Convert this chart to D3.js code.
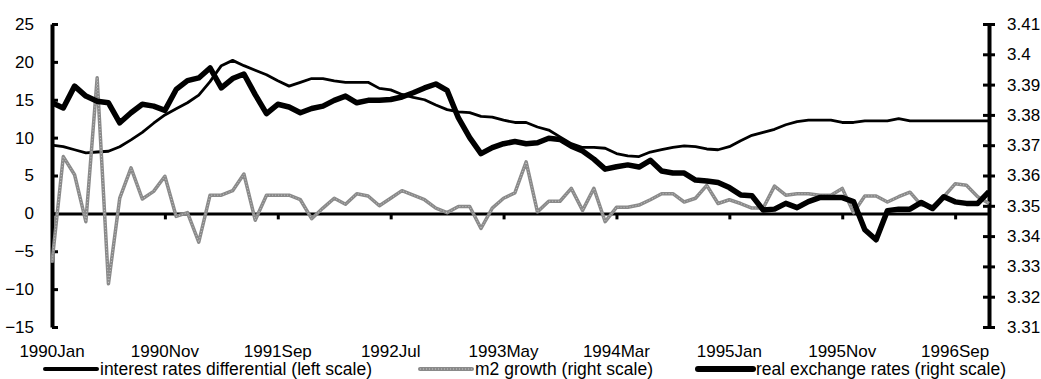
<!DOCTYPE html>
<html>
<head>
<meta charset="utf-8">
<script src="https://cdn.jsdelivr.net/npm/d3@7/dist/d3.min.js"></script>
<style>
  body { margin: 0; background: #fff; }
  svg { display: block; }
  text { font-family: "Liberation Sans", Arial, sans-serif; fill: #000; }
  .axis path, .axis line { stroke: #000; }
</style>
</head>
<body>
<svg id="chart" width="1041" height="379"></svg>
<script>
// categories: monthly, 1990Jan .. 1996Dec
const years = [1990, 1991, 1992, 1993, 1994, 1995, 1996];
const monthNames = ["Jan","Feb","Mar","Apr","May","Jun","Jul","Aug","Sep","Oct","Nov","Dec"];
const categories = [];
years.forEach(y => monthNames.forEach(m => categories.push(y + m)));

// interest rates differential (left scale)
const interestDiff = [
  9.0, 8.8, 8.4, 8.0, 8.1, 8.2, 8.8, 9.7, 10.7, 11.9, 13.0, 13.8,
  14.6, 15.6, 17.4, 19.5, 20.2, 19.5, 18.9, 18.3, 17.5, 16.8, 17.3, 17.8,
  17.8, 17.5, 17.3, 17.3, 17.3, 16.5, 16.3, 15.7, 15.3, 15.0, 14.3, 13.7,
  13.4, 13.3, 12.8, 12.7, 12.3, 12.0, 12.0, 11.4, 11.0, 10.1, 9.2, 8.7,
  8.7, 8.6, 7.9, 7.6, 7.5, 8.1, 8.4, 8.7, 8.9, 8.8, 8.5, 8.4,
  8.8, 9.6, 10.3, 10.7, 11.1, 11.7, 12.1, 12.3, 12.3, 12.3, 12.0, 12.0,
  12.2, 12.2, 12.2, 12.5, 12.2, 12.2, 12.2, 12.2, 12.2, 12.2, 12.2, 12.2
];

// m2 growth (drawn against the left scale, as in the picture)
const m2Growth = [
  -6.5, 7.5, 5.1, -1.1, 17.9, -9.3, 2.0, 6.0, 1.9, 2.9, 4.9, -0.4,
  0.1, -3.8, 2.4, 2.4, 3.0, 5.2, -0.9, 2.4, 2.4, 2.4, 1.8, -0.7,
  0.7, 2.0, 1.2, 2.6, 2.3, 1.0, 2.0, 3.0, 2.4, 1.8, 0.7, 0.1,
  0.9, 0.9, -2.0, 0.7, 2.0, 2.7, 6.8, 0.2, 1.6, 1.6, 3.3, 0.4,
  3.3, -1.1, 0.8, 0.8, 1.1, 1.8, 2.6, 2.6, 1.5, 2.0, 3.7, 1.3,
  1.8, 1.3, 0.7, 0.7, 3.6, 2.4, 2.6, 2.6, 2.4, 2.4, 3.3, 0.1,
  2.3, 2.3, 1.5, 2.2, 2.8, 1.1, 0.9, 2.2, 3.9, 3.7, 2.2, 1.3
];

// real exchange rates (right scale)
const realExRate = [
  3.3840, 3.3823, 3.3895, 3.3862, 3.3845, 3.3840, 3.3774, 3.3807, 3.3835, 3.3829, 3.3815, 3.3884,
  3.3913, 3.3922, 3.3955, 3.3889, 3.3920, 3.3935, 3.3867, 3.3804, 3.3835, 3.3826, 3.3807, 3.3821,
  3.3829, 3.3848, 3.3862, 3.3840, 3.3848, 3.3848, 3.3851, 3.3859, 3.3873, 3.3889, 3.3902, 3.3881,
  3.3790, 3.3725, 3.3672, 3.3692, 3.3705, 3.3712, 3.3705, 3.3708, 3.3723, 3.3719, 3.3697, 3.3681,
  3.3654, 3.3621, 3.3629, 3.3635, 3.3628, 3.3650, 3.3615, 3.3608, 3.3608, 3.3585, 3.3582, 3.3577,
  3.3560, 3.3536, 3.3533, 3.3486, 3.3489, 3.3508, 3.3494, 3.3514, 3.3527, 3.3527, 3.3527, 3.3514,
  3.3421, 3.3388, 3.3484, 3.3489, 3.3489, 3.3511, 3.3491, 3.3530, 3.3513, 3.3508, 3.3508, 3.3547
];

const leftTicks = [-15, -10, -5, 0, 5, 10, 15, 20, 25];
const rightTicks = [3.31, 3.32, 3.33, 3.34, 3.35, 3.36, 3.37, 3.38, 3.39, 3.40, 3.41];
const xTickLabels = ["1990Jan", "1990Nov", "1991Sep", "1992Jul", "1993May", "1994Mar", "1995Jan", "1995Nov", "1996Sep"];

const seriesNames = ["interest rates differential (left scale)", "m2 growth (right scale)", "real exchange rates (right scale)"];

const svg = d3.select("#chart");
const plot = {left: 52, right: 989, top: 24, bottom: 327};

const xScale = d3.scalePoint()
    .domain(categories)
    .range([plot.left, plot.right]);

const yLeft = d3.scaleLinear()
    .domain([-15, 25])
    .range([plot.bottom, plot.top]);

const yRight = d3.scaleLinear()
    .domain([3.31, 3.41])
    .range([plot.bottom, plot.top]);

svg.append("rect").attr("width", 1041).attr("height", 379).attr("fill", "#fff");

// left axis
const leftAxis = svg.append("g")
    .attr("class", "axis yAxis")
    .attr("transform", "translate(" + plot.left + ",0)")
    .call(d3.axisLeft(yLeft).tickValues(leftTicks).tickSize(6).tickSizeOuter(0).tickPadding(12));
leftAxis.select(".domain").attr("stroke-width", 4);
leftAxis.selectAll(".tick line").attr("x2", 6).attr("stroke-width", 3);
leftAxis.selectAll("text").style("font-size", "17px");

// right axis
const rightAxis = svg.append("g")
    .attr("class", "axis yAxis")
    .attr("transform", "translate(" + plot.right + ",0)")
    .call(d3.axisRight(yRight).tickValues(rightTicks).tickSize(6).tickSizeOuter(0).tickPadding(12)
        .tickFormat(d3.format("~g")));
rightAxis.select(".domain").attr("stroke-width", 4);
rightAxis.selectAll(".tick line").attr("x1", -6).attr("stroke-width", 3);
rightAxis.selectAll("text").style("font-size", "17px");

// category axis sits on the zero line
const xAxis = svg.append("g")
    .attr("class", "axis xAxis")
    .attr("transform", "translate(0," + yLeft(0) + ")")
    .call(d3.axisBottom(xScale).tickValues(xTickLabels).tickSize(6).tickSizeOuter(0).tickFormat(""));
xAxis.select(".domain").attr("stroke-width", 3);
xAxis.selectAll(".tick line").attr("stroke-width", 3)
    .filter(d => d === categories[0]).remove();

// x labels along the bottom
svg.append("g")
    .selectAll("text")
    .data(xTickLabels)
    .enter()
    .append("text")
    .attr("x", d => xScale(d))
    .attr("y", 357)
    .attr("text-anchor", "middle")
    .style("font-size", "17px")
    .text(d => d);

// series
const lineLeft = (vals) => d3.line()
    .x((d, i) => xScale(categories[i]))
    .y(d => yLeft(d))(vals);
const lineRight = (vals) => d3.line()
    .x((d, i) => xScale(categories[i]))
    .y(d => yRight(d))(vals);

const styles = [
  {stroke: "#000", width: 2.8},
  {stroke: "#8a8a8a", width: 3.5},
  {stroke: "#000", width: 5.5}
];

svg.append("path")
    .attr("d", lineLeft(interestDiff))
    .attr("fill", "none").attr("stroke", styles[0].stroke).attr("stroke-width", styles[0].width)
    .attr("stroke-linejoin", "round");

svg.append("path")
    .attr("d", lineLeft(m2Growth))
    .attr("fill", "none").attr("stroke", styles[1].stroke).attr("stroke-width", styles[1].width)
    .attr("stroke-linejoin", "round");
svg.append("path")
    .attr("d", lineLeft(m2Growth))
    .attr("fill", "none").attr("stroke", "#c4c4c4").attr("stroke-width", 1)
    .attr("stroke-dasharray", "1,2");

svg.append("path")
    .attr("d", lineRight(realExRate))
    .attr("fill", "none").attr("stroke", styles[2].stroke).attr("stroke-width", styles[2].width)
    .attr("stroke-linejoin", "round");

// legend
const legendItems = [
  {x: 45, len: 52},
  {x: 420, len: 52},
  {x: 698, len: 55}
];
const legend = svg.append("g").attr("class", "legend");
legendItems.forEach((it, i) => {
    legend.append("line")
        .attr("x1", it.x).attr("x2", it.x + it.len)
        .attr("y1", 369).attr("y2", 369)
        .attr("stroke", styles[i].stroke)
        .attr("stroke-width", i === 2 ? 6 : 4)
        .attr("stroke-linecap", "round");
    if (i === 1) {
        legend.append("line")
            .attr("x1", it.x).attr("x2", it.x + it.len)
            .attr("y1", 369).attr("y2", 369)
            .attr("stroke", "#c4c4c4").attr("stroke-width", 1)
            .attr("stroke-dasharray", "1,2");
    }
    legend.append("text")
        .attr("x", it.x + it.len + 3)
        .attr("y", 375)
        .style("font-size", "17.5px")
        .text(seriesNames[i]);
});
</script>
</body>
</html>
